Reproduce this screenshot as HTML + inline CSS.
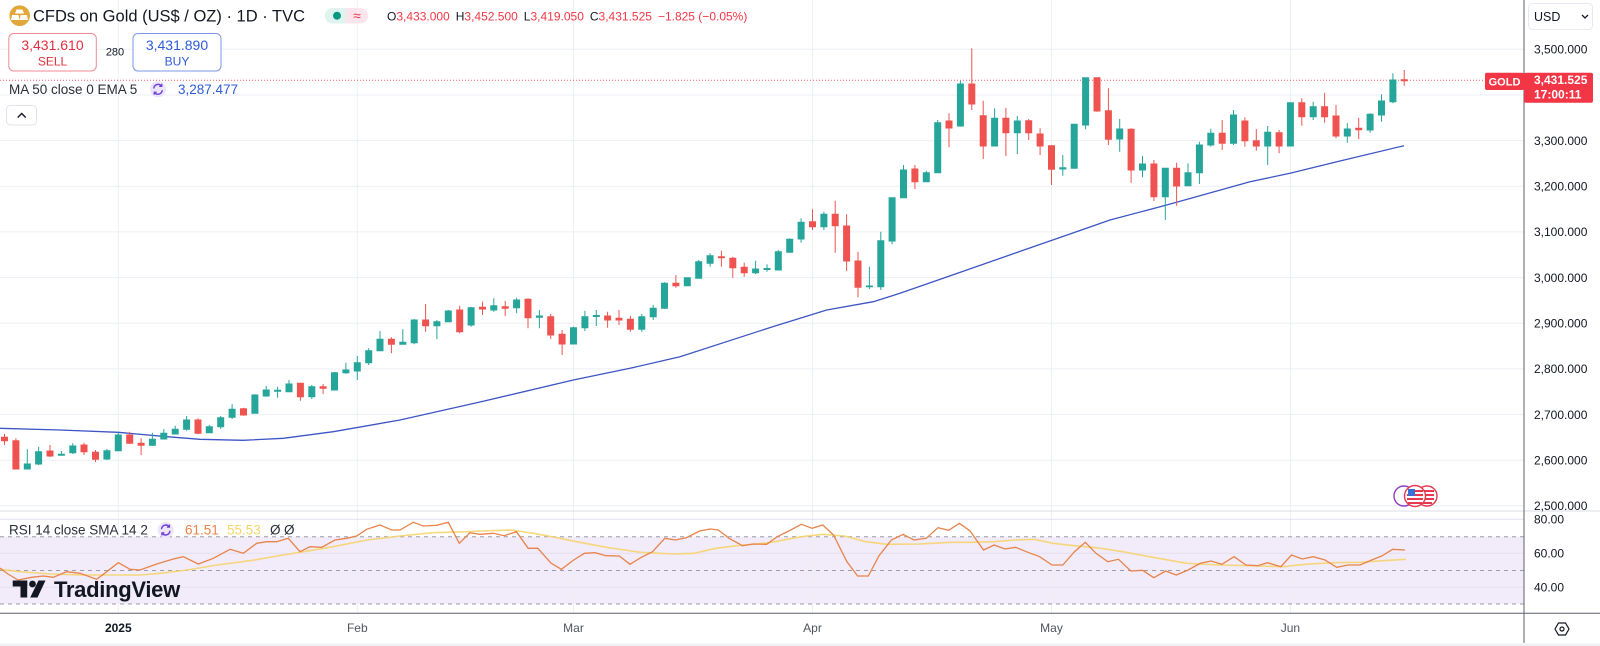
<!DOCTYPE html>
<html><head><meta charset="utf-8"><style>
html,body{margin:0;padding:0;background:#fff;}
svg{display:block;font-family:"Liberation Sans",sans-serif;}
</style></head><body>
<svg width="1600" height="646" viewBox="0 0 1600 646" xmlns="http://www.w3.org/2000/svg">
<rect width="1600" height="646" fill="#ffffff"/>
<!-- RSI band -->
<rect x="0" y="536.7" width="1524" height="67.3" fill="#f1ebfa"/>
<!-- grid -->
<g stroke="#eceff4" stroke-width="1">
<line x1="118.3" y1="0" x2="118.3" y2="613"/><line x1="357.3" y1="0" x2="357.3" y2="613"/><line x1="573.5" y1="0" x2="573.5" y2="613"/><line x1="812.5" y1="0" x2="812.5" y2="613"/><line x1="1051.5" y1="0" x2="1051.5" y2="613"/><line x1="1290.4" y1="0" x2="1290.4" y2="613"/>
<line x1="0" y1="49.3" x2="1524" y2="49.3"/><line x1="0" y1="95" x2="1524" y2="95"/><line x1="0" y1="140.6" x2="1524" y2="140.6"/><line x1="0" y1="186.3" x2="1524" y2="186.3"/><line x1="0" y1="231.9" x2="1524" y2="231.9"/><line x1="0" y1="277.6" x2="1524" y2="277.6"/><line x1="0" y1="323.2" x2="1524" y2="323.2"/><line x1="0" y1="368.9" x2="1524" y2="368.9"/><line x1="0" y1="414.5" x2="1524" y2="414.5"/><line x1="0" y1="460.2" x2="1524" y2="460.2"/><line x1="0" y1="505.8" x2="1524" y2="505.8"/>
</g>
<g stroke="#e4dff0" stroke-width="1">
<line x1="0" y1="519.3" x2="1524" y2="519.3"/><line x1="0" y1="553.3" x2="1524" y2="553.3"/><line x1="0" y1="587.3" x2="1524" y2="587.3"/>
</g>
<g stroke="#9a9ca6" stroke-width="1" stroke-dasharray="4 4">
<line x1="0" y1="536.7" x2="1524" y2="536.7"/><line x1="0" y1="570.5" x2="1524" y2="570.5"/><line x1="0" y1="604" x2="1524" y2="604"/>
</g>
<!-- MA line -->
<polyline fill="none" stroke="#3d55c4" stroke-width="1.3" points="0,428.3 60,430 118.3,432.3 166.7,436.7 200,439.3 243.3,440.3 283.3,438.3 333.3,431.7 400,420 480,402 573.3,380 630,368.3 680,356.7 775,326 826.7,310 873.3,301.7 900,293.3 960,272.4 1020,251.4 1070,234 1110,220 1166.7,205 1250,181.7 1290,173.3 1340,161 1404,145.7"/>
<!-- price line -->
<line x1="0" y1="80.3" x2="1524" y2="80.3" stroke="#f23645" stroke-width="1" stroke-dasharray="1 2" opacity="0.8"/>
<!-- candles -->
<path fill="#26a69a" stroke="#26a69a" stroke-width="1" d="M27.3 449.3V469M24.3 464h6V469h-6ZM38.6 446.7V465M35.6 451.7h6V464h-6ZM61.4 451V455.5M58.4 454.3h6V455.3h-6ZM72.8 443.3V454M69.8 446h6V452.7h-6ZM106.9 449V460M103.9 450.7h6V459h-6ZM118.3 432.7V450.7M115.3 435h6V450.7h-6ZM152.4 432.7V446M149.4 439.3h6V445.3h-6ZM163.8 429V439.3M160.8 433.3h6V439h-6ZM175.2 425.7V434.3M172.2 429.3h6V434h-6ZM186.6 416V430.7M183.6 420h6V429.3h-6ZM209.3 425V433.3M206.3 426.7h6V432.7h-6ZM220.7 416V429M217.7 417.7h6V426.7h-6ZM232.1 404.3V419M229.1 409.3h6V417.3h-6ZM254.9 394.3V413.3M251.9 395h6V413.3h-6ZM266.2 386V396.7M263.2 390h6V396h-6ZM277.6 386.7V397.7M274.6 390.3h6V391.3h-6ZM289 380V392.3M286 384h6V391.7h-6ZM311.8 385V399M308.8 386.7h6V396.7h-6ZM334.5 372V390M331.5 372.7h6V390h-6ZM345.9 362.7V374M342.9 370h6V372.7h-6ZM357.3 356V380M354.3 362.7h6V371h-6ZM368.7 348.3V365M365.7 350.7h6V362.7h-6ZM380 331V351M377 339.3h6V350.7h-6ZM402.8 329.3V344.3M399.8 342.3h6V344.3h-6ZM414.2 319V344.3M411.2 320h6V342.7h-6ZM436.9 320V339.3M433.9 321.7h6V325.7h-6ZM448.3 310V322.3M445.3 311h6V321.7h-6ZM471.1 306.7V326.7M468.1 307.7h6V325h-6ZM493.8 298.3V311.7M490.8 305.7h6V310h-6ZM516.6 297.7V313.3M513.6 300h6V307.7h-6ZM539.4 310V328.3M536.4 316h6V317.3h-6ZM573.5 326.7V344M570.5 327.7h6V344h-6ZM584.9 310.7V331M581.9 316.7h6V327.7h-6ZM596.3 310V326M593.3 315.5h6V316.5h-6ZM641.8 314V331.7M638.8 316.7h6V329.3h-6ZM653.2 305V320M650.2 308.3h6V316.7h-6ZM664.5 282.3V309M661.5 283.3h6V308.3h-6ZM687.3 277.3V286M684.3 277.7h6V285.7h-6ZM698.7 260V278.3M695.7 261.7h6V278.3h-6ZM710.1 253.3V266.7M707.1 255.7h6V263.3h-6ZM755.6 260.7V274M752.6 269h6V272.7h-6ZM767 264.3V271.7M764 268.5h6V269.5h-6ZM778.3 250V270M775.3 251.7h6V270h-6ZM789.7 238.3V252.7M786.7 239.3h6V252.3h-6ZM801.1 218.3V242.7M798.1 222.3h6V239h-6ZM823.9 211.7V230M820.9 214.3h6V226.7h-6ZM869.4 266.7V289M866.4 286h6V286.7h-6ZM880.8 231.7V290M877.8 240.7h6V286.7h-6ZM892.1 197.7V244.3M889.1 197.7h6V241h-6ZM903.5 165V198M900.5 170h6V197.7h-6ZM926.3 170.7V182M923.3 172.7h6V181.7h-6ZM937.7 120V173M934.7 122.7h6V172.7h-6ZM960.4 80.7V126.7M957.4 84h6V126h-6ZM994.6 108.3V146M991.6 118.3h6V146h-6ZM1017.3 116V154M1014.3 121h6V132.7h-6ZM1062.8 155V175.7M1059.8 167.7h6V169h-6ZM1074.2 124V168.5M1071.2 124.3h6V168.3h-6ZM1085.6 77.7V129.3M1082.6 77.7h6V125h-6ZM1119.7 119V151.7M1116.7 129h6V139h-6ZM1142.5 156V177.3M1139.5 164h6V170h-6ZM1165.3 168.3V220M1162.3 168.3h6V196.7h-6ZM1188 163.3V185.7M1185 172.7h6V185.7h-6ZM1199.4 141.7V184M1196.4 145h6V172.7h-6ZM1210.8 128.7V146.7M1207.8 133.3h6V145h-6ZM1233.5 110V145M1230.5 115h6V143.3h-6ZM1267.7 126V165M1264.7 132.3h6V146h-6ZM1290.4 102.7V146M1287.4 102.7h6V146h-6ZM1313.2 101.7V120M1310.2 106.7h6V116.7h-6ZM1347.3 123.3V142.7M1344.3 129h6V136h-6ZM1370.1 113.3V132.7M1367.1 114.3h6V130h-6ZM1381.5 94.3V121.7M1378.5 101h6V115h-6ZM1392.9 73.3V103.3M1389.9 80h6V101.7h-6Z"/>
<path fill="#ef5350" stroke="#ef5350" stroke-width="1" d="M4.5 434V445M1.5 437.3h6V440.7h-6ZM15.9 438.3V469M12.9 440.7h6V469h-6ZM50 445V457M47 451h6V456h-6ZM84 442.7V455M81 445h6V451.7h-6ZM95.5 450V462M92.5 452.3h6V459.3h-6ZM129.7 431.7V444M126.7 435h6V443.3h-6ZM141.1 438.3V455M138.1 443.3h6V445.3h-6ZM198 418.3V434.3M195 420h6V433.3h-6ZM243.5 407.7V415.7M240.5 408.7h6V415h-6ZM300.4 382.7V400.7M297.4 383.3h6V396.7h-6ZM323.1 384V394M320.1 386.7h6V388.3h-6ZM391.4 337.3V353.3M388.4 339.3h6V344.3h-6ZM425.6 304V331.7M422.6 320h6V325.7h-6ZM459.7 305.7V333.3M456.7 310h6V331.7h-6ZM482.5 301.7V315M479.5 307.3h6V309h-6ZM505.2 301V316M502.2 306.7h6V308.3h-6ZM528 298.3V328.3M525 299.3h6V317.7h-6ZM550.7 314V339M547.7 316.7h6V335h-6ZM562.1 330V355M559.1 334.3h6V344h-6ZM607.6 311.7V327.7M604.6 316h6V320h-6ZM619 310V325M616 318.3h6V320h-6ZM630.4 316V331.7M627.4 319.3h6V329.3h-6ZM675.9 275V287.7M672.9 283.3h6V285.7h-6ZM721.4 250.7V266.7M718.4 256.7h6V257.7h-6ZM732.8 256.7V277.7M729.8 258.3h6V267.7h-6ZM744.2 262.7V276.7M741.2 267.3h6V272.7h-6ZM812.5 209.3V230M809.5 221.7h6V226.7h-6ZM835.2 200.7V252.7M832.2 214.3h6V225.7h-6ZM846.6 214.3V271M843.6 226h6V261h-6ZM858 251.7V297.3M855 261h6V287.3h-6ZM914.9 165V189M911.9 169h6V181.7h-6ZM949 113.3V147.3M946 121h6V128h-6ZM971.8 48.3V110M968.8 84h6V104h-6ZM983.2 100.7V159M980.2 115.7h6V146h-6ZM1005.9 107.7V156M1002.9 118.3h6V132.7h-6ZM1028.7 119V140M1025.7 120.7h6V132.7h-6ZM1040.1 128.3V155M1037.1 134h6V146h-6ZM1051.5 145V185M1048.5 145.7h6V169.3h-6ZM1097 77.7V111.7M1094 77.7h6V111h-6ZM1108.4 88.3V145M1105.4 110.7h6V139.3h-6ZM1131.1 128.3V182.7M1128.1 129.3h6V170h-6ZM1153.9 160V201M1150.9 164h6V196.7h-6ZM1176.6 162.7V205.7M1173.6 168.3h6V186h-6ZM1222.2 120V150M1219.2 133.3h6V143.3h-6ZM1244.9 117.3V146.7M1241.9 121h6V140.7h-6ZM1256.3 129V150.7M1253.3 140.7h6V146h-6ZM1279.1 130V153.3M1276.1 132.7h6V146h-6ZM1301.8 98.3V125.7M1298.8 102.7h6V116.7h-6ZM1324.6 92.7V122.7M1321.6 106.7h6V116.7h-6ZM1336 105V138.3M1333 116h6V136h-6ZM1358.7 117.7V139.3M1355.7 128.3h6V129.7h-6ZM1404.2 70V85.7M1401.2 79.7h6V80.7h-6Z"/>
<!-- RSI lines -->
<polyline fill="none" stroke="#f6d46e" stroke-width="1.6" stroke-opacity="0.9" points="0,569.3 20,571.7 50,574 83,575 110,575 140,575 160,573.3 187,570 217,565 250,560.7 283,555 310,550.7 333,546.7 367,540 400,536 433,532.7 467,531.7 480,531 512.1,530 533.6,533.3 555,537.3 576.4,541.7 608.5,547.7 640.7,552.3 672.8,554 694.2,553.3 715.7,548.3 737.1,545.7 769.2,542.7 801.4,536.7 822.8,534.3 844.2,536 865.6,541.7 887.1,544.3 919.2,544 951.3,542.3 972.8,542.3 994.2,541.7 1015.6,540 1034.4,539.3 1053.1,543.3 1074.5,545.7 1096,547.7 1122.7,551.7 1154.9,557.7 1187,563.3 1219.1,565 1251.3,565.7 1283.4,566.7 1304.8,564.3 1333,562.7 1360,562.3 1383,560.7 1406,559.3"/>
<polyline fill="none" stroke="#e8844a" stroke-width="1.3" points="0,568 8,574 18,580 31.7,577.3 43.3,576 53.3,577.3 66.7,571.7 80,573.3 96.7,579.3 106.7,571.7 118.3,562.7 130,569.3 140,570 156.7,564 173.3,559 183.3,556.7 198.3,564 213.3,558.3 230,549.3 243.3,553.3 256.7,543.3 266.7,541.7 276.7,541.7 288.3,538.3 300,551.7 310,546.7 321.7,547.3 335,540 346.7,538.3 356.7,536 366.7,529.3 380,525 391.7,530 400,530 413.3,522.3 423.3,526 436.7,525.3 448.3,522.3 459.3,543.3 470,532.7 480,534.3 493.4,533.3 504.1,535.7 516.4,531.7 528.2,548.3 537.8,548.3 551.2,563.3 561.4,569.3 573.7,560 584.4,553.3 595.2,552.7 605.9,555.7 619.3,556 630,564.3 640.7,557.7 652.5,551.7 664.8,538.3 675.5,540 686.2,537.7 699.6,531 710.3,529 718.3,530 729.1,538.3 742.5,545.7 753.2,544 766.6,544.3 777.3,536.7 790.7,530 801.4,524.3 812.1,528.3 822.8,525 833.5,535 846.9,561.7 857.6,576 868.3,576 879,555.7 891.4,540 903.1,534.3 913.9,540 926.2,538.3 938,527.7 948.7,530.3 959.4,523.3 970.1,531 983.5,550 994.2,545 1004.9,549 1015.6,547.3 1026.3,551.7 1039.7,556.7 1052,565 1062.8,565 1074.5,551.7 1085.3,542.3 1096,553.3 1107.8,561.7 1118.5,559.3 1130.8,571 1142.6,570.3 1153.8,577.7 1165.6,571 1176.3,575 1188.1,570 1200.4,563.3 1211.1,561 1221.8,564.3 1234.1,556.7 1245.9,565 1257.7,565.7 1267.4,562.7 1280.8,566.7 1291.5,555 1302.2,559 1313.3,556.7 1325,560 1336.7,567.3 1348.3,565 1360,565 1371.7,560 1381.7,556 1392.7,549.3 1405,550"/>
<!-- event icons -->
<g>
<circle cx="1427" cy="496" r="10" fill="#fff" stroke="#e53950" stroke-width="1.4"/>
<rect x="1420" y="490" width="14" height="2" fill="#e53950"/><rect x="1420" y="494" width="14" height="2" fill="#e53950"/><rect x="1420" y="498" width="14" height="2" fill="#e53950"/><rect x="1420" y="502" width="12" height="2" fill="#e53950"/>
<circle cx="1404" cy="496" r="10" fill="#fff" stroke="#8e3fbf" stroke-width="1.4"/>
<circle cx="1415" cy="496" r="10.5" fill="#fff" stroke="#e53950" stroke-width="1.4"/>
<rect x="1408" y="490" width="15" height="2" fill="#e53950"/><rect x="1407" y="494" width="16" height="2" fill="#e53950"/><rect x="1407" y="498" width="16" height="2" fill="#e53950"/><rect x="1408" y="502" width="14" height="2" fill="#e53950"/>
<rect x="1408" y="489" width="7" height="7" fill="#3b6fd8"/>
</g>
<!-- pane separator and borders -->
<line x1="0" y1="511" x2="1600" y2="511" stroke="#e0e3eb" stroke-width="1.2"/>
<line x1="0" y1="613.3" x2="1600" y2="613.3" stroke="#5d606b" stroke-width="1"/>
<line x1="1524" y1="0" x2="1524" y2="643" stroke="#5d606b" stroke-width="1"/>
<rect x="0" y="643.5" width="1600" height="2.5" fill="#eef0f4"/>
<!-- price axis labels -->
<g font-size="12" fill="#131722">
<text x="1534" y="53.6">3,500.000</text>
<text x="1534" y="144.9">3,300.000</text>
<text x="1534" y="190.6">3,200.000</text>
<text x="1534" y="236.2">3,100.000</text>
<text x="1534" y="281.9">3,000.000</text>
<text x="1534" y="327.5">2,900.000</text>
<text x="1534" y="373.2">2,800.000</text>
<text x="1534" y="418.8">2,700.000</text>
<text x="1534" y="464.5">2,600.000</text>
<text x="1534" y="510">2,500.000</text>
<text x="1534" y="523.6">80.00</text>
<text x="1534" y="557.6">60.00</text>
<text x="1534" y="591.6">40.00</text>
</g>
<!-- USD -->
<rect x="1528.5" y="3.5" width="64" height="26" rx="4" fill="#fff" stroke="#e6e9ef"/>
<text x="1534" y="21" font-size="12.5" fill="#131722">USD</text>
<path d="M1582 15l3 3 3-3" fill="none" stroke="#131722" stroke-width="1.3"/>
<!-- GOLD tag -->
<rect x="1485" y="72.7" width="39" height="17.3" rx="2" fill="#f23645"/>
<text x="1504.5" y="85.6" font-size="11" font-weight="bold" fill="#fff" text-anchor="middle">GOLD</text>
<rect x="1524" y="72.7" width="69" height="30" rx="2" fill="#f23645"/>
<text x="1534" y="84" font-size="12" font-weight="bold" fill="#fff">3,431.525</text>
<text x="1534" y="98.3" font-size="12" font-weight="bold" fill="#fff">17:00:11</text>
<!-- time axis -->
<g font-size="12" fill="#50535e" text-anchor="middle">
<text x="118.3" y="632" font-weight="bold" fill="#131722">2025</text>
<text x="357.3" y="632">Feb</text>
<text x="573.5" y="632">Mar</text>
<text x="812.5" y="632">Apr</text>
<text x="1051.5" y="632">May</text>
<text x="1290.4" y="632">Jun</text>
</g>
<!-- settings -->
<polygon points="1555,629 1558.5,623 1565.5,623 1569,629 1565.5,635 1558.5,635" fill="none" stroke="#131722" stroke-width="1.2"/>
<circle cx="1562" cy="629" r="2" fill="none" stroke="#131722" stroke-width="1.2"/>
<!-- header -->
<circle cx="19.7" cy="15.7" r="10.3" fill="#e0a73b"/>
<polygon points="16.5,9.5 22.5,9.5 24,13.5 15,13.5" fill="#fff"/>
<polygon points="12,15 18.5,15 19.5,20 11,20" fill="#fff"/>
<polygon points="20.5,15 27,15 28,20 19.5,20" fill="#fff" opacity="0.9"/>
<text x="33" y="21.6" font-size="16.5" fill="#131722">CFDs on Gold (US$ / OZ) · 1D · TVC</text>
<rect x="325" y="8" width="43" height="15.5" rx="7.7" fill="#fce4ec"/>
<path d="M332.7 8h13.3v15.5h-13.3a7.7 7.7 0 0 1 0-15.5z" fill="#dff3ef"/>
<circle cx="337" cy="15.7" r="4" fill="#089981"/>
<text x="357" y="20.5" font-size="14" fill="#f23645" text-anchor="middle">≈</text>
<text x="387" y="20.5" font-size="12"><tspan fill="#131722">O</tspan><tspan fill="#f23645">3,433.000</tspan><tspan dx="6" fill="#131722">H</tspan><tspan fill="#f23645">3,452.500</tspan><tspan dx="6" fill="#131722">L</tspan><tspan fill="#f23645">3,419.050</tspan><tspan dx="6" fill="#131722">C</tspan><tspan fill="#f23645">3,431.525</tspan><tspan dx="6" fill="#f23645">−1.825 (−0.05%)</tspan></text>
<!-- sell/buy -->
<rect x="8.8" y="33.5" width="87.5" height="37.5" rx="5" fill="#fff" stroke="#f08a95" stroke-width="1"/>
<text x="52.5" y="50" font-size="14" fill="#e0303f" text-anchor="middle">3,431.610</text>
<text x="52.5" y="65.5" font-size="12" fill="#e0303f" text-anchor="middle">SELL</text>
<text x="115" y="55.5" font-size="11" fill="#131722" text-anchor="middle">280</text>
<rect x="133" y="33.5" width="88" height="37.5" rx="5" fill="#fff" stroke="#7d97e8" stroke-width="1"/>
<text x="177" y="50" font-size="14" fill="#2f5bd8" text-anchor="middle">3,431.890</text>
<text x="177" y="65.5" font-size="12" fill="#2f5bd8" text-anchor="middle">BUY</text>
<!-- MA legend -->
<text x="9" y="94" font-size="13.5" fill="#2a2e39">MA 50 close 0 EMA 5</text>
<circle cx="158" cy="89.3" r="8" fill="#ece5fb"/>
<path d="M153.8 88.5a4.3 4.3 0 0 1 7.6-2.6M162.2 90.1a4.3 4.3 0 0 1-7.6 2.6" fill="none" stroke="#6b3fd4" stroke-width="1.4"/>
<path d="M161.8 83.8v2.6h-2.6M154.2 94.8v-2.6h2.6" fill="none" stroke="#6b3fd4" stroke-width="1.2"/>
<text x="178" y="94" font-size="13.5" fill="#2f5bd8">3,287.477</text>
<!-- collapse btn -->
<rect x="6.5" y="105.5" width="30" height="19.5" rx="4" fill="#fff" stroke="#e0e3eb"/>
<path d="M17.7 117.5l4-4 4 4" fill="none" stroke="#131722" stroke-width="1.4"/>
<!-- RSI legend -->
<text x="9" y="534.7" font-size="13.5" fill="#2a2e39">RSI 14 close SMA 14 2</text>
<circle cx="165.7" cy="530" r="8" fill="#ece5fb"/>
<path d="M161.5 529.2a4.3 4.3 0 0 1 7.6-2.6M169.9 530.8a4.3 4.3 0 0 1-7.6 2.6" fill="none" stroke="#6b3fd4" stroke-width="1.4"/>
<path d="M169.5 524.5v2.6h-2.6M161.9 535.5v-2.6h2.6" fill="none" stroke="#6b3fd4" stroke-width="1.2"/>
<text x="185" y="534.7" font-size="13.5" fill="#e8844a">61.51</text>
<text x="227" y="534.7" font-size="13.5" fill="#f5d66b">55.53</text>
<text x="270" y="534.7" font-size="13.5" fill="#2a2e39">Ø</text>
<text x="284" y="534.7" font-size="13.5" fill="#2a2e39">Ø</text>
<!-- TradingView logo -->
<g fill="#131722">
<rect x="12.7" y="580.5" width="14.5" height="6"/>
<rect x="20.5" y="580.5" width="6.7" height="17"/>
<circle cx="32.5" cy="584" r="3.4"/>
<polygon points="38.5,580.5 45.5,580.5 37.5,597.5 30.2,597.5"/>
</g>
<text x="54" y="597" font-size="22" font-weight="bold" fill="#131722" letter-spacing="-0.3">TradingView</text>
</svg>
</body></html>
